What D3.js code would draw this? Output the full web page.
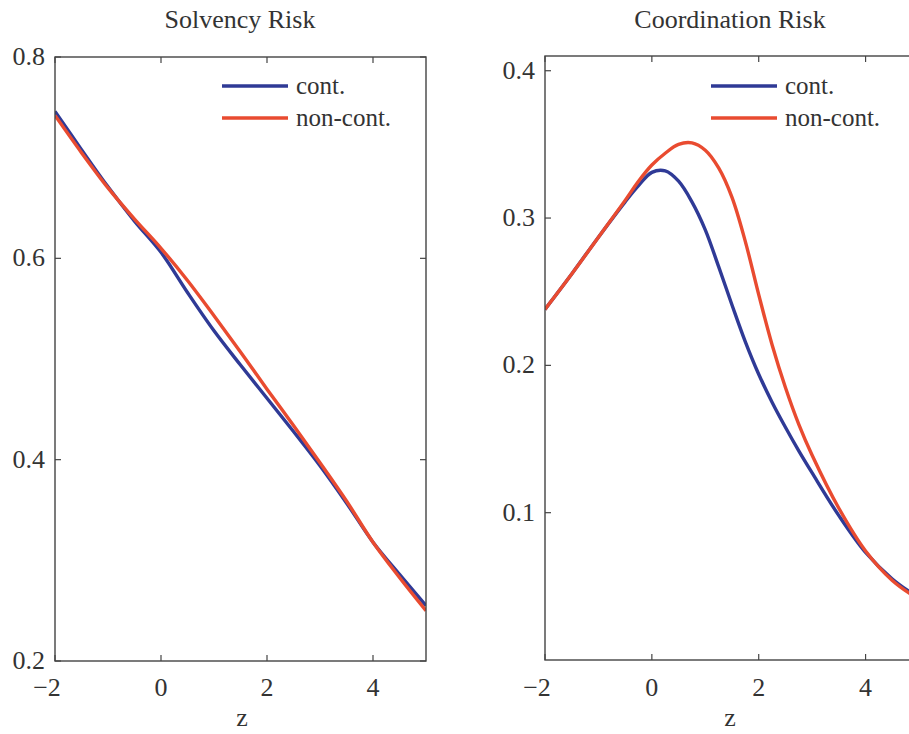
<!DOCTYPE html>
<html>
<head>
<meta charset="utf-8">
<script src="https://cdn.jsdelivr.net/npm/d3@7"></script>
<style>
  body { margin: 0; background: #fff; }
</style>
</head>
<body>
<div id="chart"></div>
<script>
const zSolvency = [-2, -1.5, -1, -0.5, 0, 0.5, 1, 1.5, 2, 2.5, 3, 3.5, 4, 4.5, 5];
const solvencyCont = [0.746, 0.708, 0.671, 0.637, 0.606, 0.566, 0.528, 0.494, 0.461, 0.428, 0.394, 0.357, 0.318, 0.286, 0.255];
const solvencyNonCont = [0.742, 0.705, 0.670, 0.639, 0.610, 0.578, 0.543, 0.507, 0.470, 0.434, 0.397, 0.359, 0.318, 0.283, 0.250];

const zCoord = [-2, -1.5, -1, -0.5, -0.25, 0, 0.25, 0.5, 0.75, 1, 1.25, 1.5, 1.75, 2, 2.25, 2.5, 2.75, 3, 3.5, 4, 4.5, 5];
const coordCont = [0.238, 0.262, 0.287, 0.311, 0.322, 0.331, 0.332, 0.325, 0.311, 0.292, 0.267, 0.241, 0.216, 0.194, 0.175, 0.158, 0.142, 0.127, 0.098, 0.073, 0.055, 0.042];
const coordNonCont = [0.238, 0.262, 0.287, 0.312, 0.325, 0.336, 0.344, 0.350, 0.351, 0.346, 0.334, 0.314, 0.284, 0.248, 0.214, 0.185, 0.160, 0.139, 0.103, 0.074, 0.054, 0.041];

const xTicks = [-2, 0, 2, 4];
const solvencyTicks = [0.2, 0.4, 0.6, 0.8];
const coordTicks = [0.1, 0.2, 0.3, 0.4];
const seriesNames = ['cont.', 'non-cont.'];
const colors = ['#2f3a96', '#e94b30'];

const width = 909;
const height = 734;
const axisColor = '#444';
const serif = "'Liberation Serif', 'DejaVu Serif', 'Times New Roman', serif";

const svg = d3.select('#chart')
  .append('svg')
  .attr('width', width)
  .attr('height', height)
  .attr('font-family', serif);

const fmtX = (d) => (d < 0 ? '\u2212' + Math.abs(d) : String(d));

const drawPanel = ({ id, title, left, right, top, bottom, yDomain, yTicks, z, series, titleX, labelX, legendX }) => {
  const x = d3.scaleLinear().domain([-2, 5]).range([left, right]);
  const y = d3.scaleLinear().domain(yDomain).range([bottom, top]);
  const g = svg.append('g');

  g.append('clipPath').attr('id', id)
    .append('rect')
    .attr('x', left).attr('y', top)
    .attr('width', right - left).attr('height', bottom - top);

  // ticks pointing inward on all four sides
  const tickLen = 6;
  const tick = (sel) => sel.attr('stroke', axisColor).attr('stroke-width', 1.2);
  g.selectAll('.xt-b').data(xTicks).enter().append('line')
    .attr('x1', (d) => x(d)).attr('x2', (d) => x(d))
    .attr('y1', bottom).attr('y2', bottom - tickLen)
    .call(tick);
  g.selectAll('.xt-t').data(xTicks).enter().append('line')
    .attr('x1', (d) => x(d)).attr('x2', (d) => x(d))
    .attr('y1', top).attr('y2', top + tickLen)
    .call(tick);
  g.selectAll('.yt-l').data(yTicks).enter().append('line')
    .attr('x1', left).attr('x2', left + tickLen)
    .attr('y1', (d) => y(d)).attr('y2', (d) => y(d))
    .call(tick);
  g.selectAll('.yt-r').data(yTicks).enter().append('line')
    .attr('x1', right).attr('x2', right - tickLen)
    .attr('y1', (d) => y(d)).attr('y2', (d) => y(d))
    .call(tick);

  g.selectAll('.xl').data(xTicks).enter().append('text')
    .attr('x', (d) => x(d) - (d < 0 ? 8 : 0))
    .attr('y', 696)
    .attr('text-anchor', 'middle')
    .attr('fill', '#333')
    .style('font-size', '26px')
    .text(fmtX);
  g.selectAll('.yl').data(yTicks).enter().append('text')
    .attr('x', left - 10)
    .attr('y', (d) => y(d) + 8)
    .attr('text-anchor', 'end')
    .attr('fill', '#333')
    .style('font-size', '26px')
    .text((d) => d.toFixed(1));

  const line = d3.line()
    .x((d) => x(d[0]))
    .y((d) => y(d[1]))
    .curve(d3.curveCatmullRom.alpha(0.5));

  series.forEach((s, i) => {
    g.append('path')
      .datum(z.map((v, k) => [v, s[k]]))
      .attr('clip-path', `url(#${id})`)
      .attr('fill', 'none')
      .attr('stroke', colors[i])
      .attr('stroke-width', 3.4)
      .attr('d', line);
  });

  g.append('rect')
    .attr('x', left).attr('y', top)
    .attr('width', right - left).attr('height', bottom - top)
    .attr('fill', 'none')
    .attr('stroke', axisColor)
    .attr('stroke-width', 1.4);

  // legend
  seriesNames.forEach((name, i) => {
    const ly = 86 + i * 32;
    g.append('line')
      .attr('x1', legendX).attr('x2', legendX + 66)
      .attr('y1', ly).attr('y2', ly)
      .attr('stroke', colors[i]).attr('stroke-width', 3.4);
    g.append('text')
      .attr('x', legendX + 74).attr('y', ly + 8)
      .attr('fill', '#333')
      .style('font-size', '25px')
      .text(name);
  });

  g.append('text')
    .attr('x', titleX)
    .attr('y', 28)
    .attr('text-anchor', 'middle')
    .attr('fill', '#333')
    .style('font-size', '26px')
    .text(title);
  g.append('text')
    .attr('x', labelX)
    .attr('y', 726)
    .attr('text-anchor', 'middle')
    .attr('fill', '#333')
    .style('font-size', '26px')
    .text('z');
};

drawPanel({
  id: 'clipA', title: 'Solvency Risk',
  left: 55, right: 426, top: 57, bottom: 661,
  yDomain: [0.2, 0.8], yTicks: solvencyTicks,
  z: zSolvency, series: [solvencyCont, solvencyNonCont],
  titleX: 240, labelX: 242, legendX: 222,
});

drawPanel({
  id: 'clipB', title: 'Coordination Risk',
  left: 545, right: 919, top: 56, bottom: 660,
  yDomain: [0, 0.41], yTicks: coordTicks,
  z: zCoord, series: [coordCont, coordNonCont],
  titleX: 730, labelX: 730, legendX: 711,
});
</script>
</body>
</html>
